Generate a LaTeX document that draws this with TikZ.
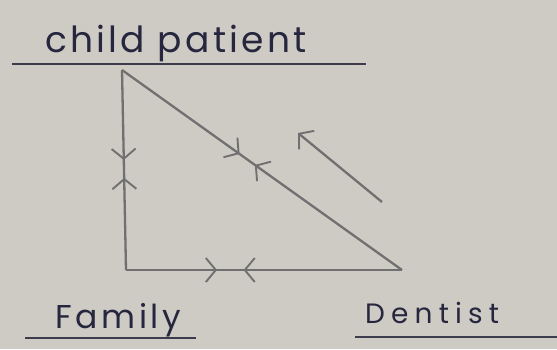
\documentclass[tikz,border=0pt]{standalone}
\usepackage{fontspec}
\setmainfont{Poppins}
\usetikzlibrary{arrows.meta,decorations.markings}
\definecolor{paper}{RGB}{206,203,196}
\definecolor{ink}{RGB}{38,38,62}
\definecolor{pencil}{RGB}{112,112,112}
\tikzset{
  chev/.tip={Straight Barb[length=10pt,width=24pt,line width=1.9pt]},
  edge/.style={draw=pencil, line width=2.3pt},
  mk/.style 2 args={postaction={decorate,decoration={markings,
     mark=at position #1 with {\arrow{chev}},
     mark=at position #2 with {\arrow{chev[reversed]}}}}},
  lbl/.style={text=ink, inner sep=0pt, anchor=base west},
  rule/.style={draw=ink!70!pencil, line width=1.6pt}
}
\begin{document}
\begin{tikzpicture}[x=1pt,y=-1pt]
\fill[paper] (0,0) rectangle (557,349);
\useasboundingbox (0,0) rectangle (557,349);
% labels
\node[lbl, font=\fontsize{36}{40}\selectfont\addfontfeatures{LetterSpace=9}] (cp) at (45,52) {child patient};
\node[lbl, font=\fontsize{33}{36}\selectfont\addfontfeatures{LetterSpace=11}] (fam) at (55,328) {Family};
\node[lbl, font=\fontsize{28}{34}\selectfont\addfontfeatures{LetterSpace=22}] (den) at (365,323) {Dentist};
% underlines
\coordinate (u1a) at (12,64);  \coordinate (u1b) at (366,64);
\coordinate (u2a) at (25,338); \coordinate (u2b) at (196,338);
\coordinate (u3a) at (355,337); \coordinate (u3b) at (557,337);
\draw[rule] (u1a) -- (u1b);
\draw[rule] (u2a) -- (u2b);
\draw[rule] (u3a) -- (u3b);
% triangle corners
\coordinate (C) at (122,70);
\coordinate (F) at (126,270);
\coordinate (D) at (402,270);
\draw[edge, mk={0.45}{0.6}] (C) -- (F);
\draw[edge, mk={0.33}{0.47}] (F) -- (D);
\draw[edge, mk={0.42}{0.51}] (C) -- (D);
% free arrow
\coordinate (a1) at (382,202);
\coordinate (a2) at (298,133);
\draw[edge, -chev] (a1) -- (a2);
\end{tikzpicture}
\end{document}
